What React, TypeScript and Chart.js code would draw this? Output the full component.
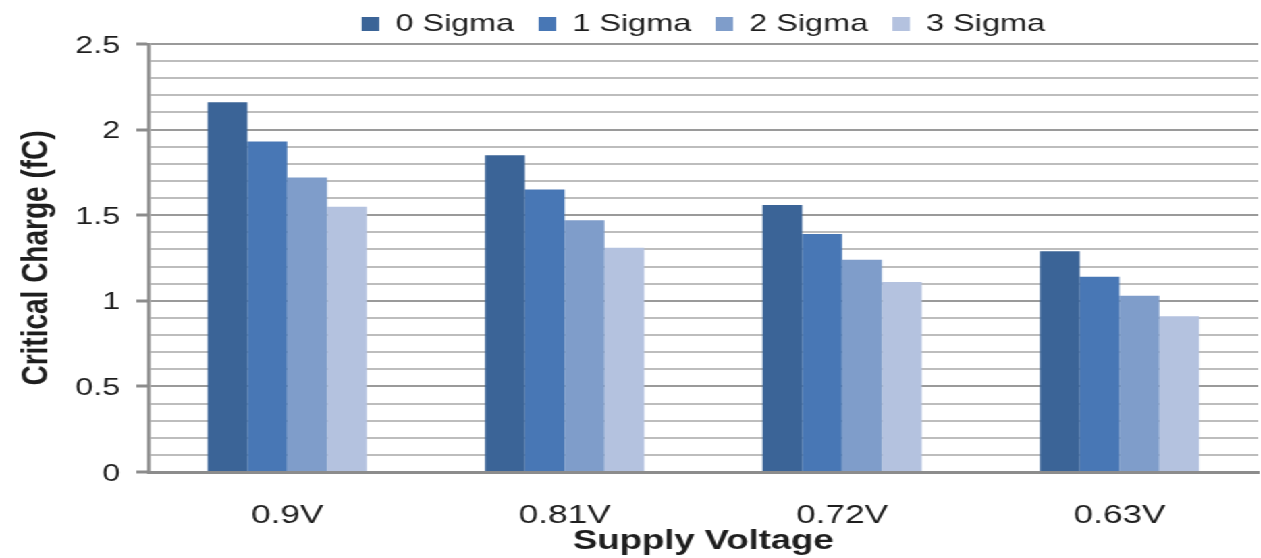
import React, { useEffect, useRef } from "react";
import { Chart, registerables } from "chart.js";

Chart.register(...registerables);

const categories = ["0.9V", "0.81V", "0.72V", "0.63V"];
const seriesNames = ["0 Sigma", "1 Sigma", "2 Sigma", "3 Sigma"];
const sigma0 = [2.16, 1.85, 1.56, 1.29];
const sigma1 = [1.93, 1.65, 1.39, 1.14];
const sigma2 = [1.72, 1.47, 1.24, 1.03];
const sigma3 = [1.55, 1.31, 1.11, 0.91];
const colors = ["#3B6497", "#4877B5", "#7F9DCA", "#B4C2DF"];
const yTitle = "Critical Charge (fC)";
const xTitle = "Supply Voltage";

const FONT = "'Liberation Sans', Arial, sans-serif";
const STRETCH = 1.35;
const W = 934;
const H = 558;

export default function App() {
  const ref = useRef<HTMLCanvasElement | null>(null);
  useEffect(() => {
    if (!ref.current) return;
    const values = [sigma0, sigma1, sigma2, sigma3];
    const isMajor = (v: number) => Math.round(v * 10) % 5 === 0;
    const legendPatch = {
      id: "legendPatch",
      afterInit(chart: any) {
        const lg = chart.legend;
        if (lg) {
          const orig = lg.fit.bind(lg);
          lg.fit = function () {
            orig();
            this.height = 50;
          };
        }
      },
    };
    const chart = new Chart(ref.current, {
      type: "bar",
      data: {
        labels: categories,
        datasets: seriesNames.map((n, i) => ({
          label: n,
          data: values[i],
          backgroundColor: colors[i],
          borderWidth: 0,
          categoryPercentage: 0.574,
          barPercentage: 1.0,
        })),
      },
      options: {
        animation: false,
        responsive: false,
        maintainAspectRatio: false,
        devicePixelRatio: 1,
        layout: { padding: { left: 0, right: 2, top: -6, bottom: 0 } },
        plugins: {
          tooltip: { enabled: false },
          legend: {
            position: "top",
            fullSize: false,
            labels: {
              boxWidth: 13,
              boxHeight: 14,
              padding: 18,
              color: "#1e1e1e",
              font: { family: FONT, size: 24 },
            },
          },
        },
        scales: {
          x: {
            grid: { display: false },
            border: { color: "#8c8c8c", width: 3 },
            ticks: {
              color: "#1e1e1e",
              font: { family: FONT, size: 26 },
              padding: 20,
            },
            title: {
              display: true,
              text: xTitle,
              color: "#1e1e1e",
              font: { family: FONT, size: 27, weight: "bold" },
              padding: { top: 0, bottom: 0 },
            },
            afterFit(scale: any) {
              scale.height = 86;
            },
          },
          y: {
            min: 0,
            max: 2.5,
            border: { color: "#8c8c8c", width: 2.5 },
            grid: {
              color: (ctx: any) => (isMajor(ctx.tick?.value ?? 0) ? "#9a9a9a" : "#bdbdbd"),
              lineWidth: 2,
              drawTicks: true,
              tickLength: 9,
              tickColor: (ctx: any) => (isMajor(ctx.tick?.value ?? 0) ? "#8c8c8c" : "rgba(0,0,0,0)"),
              tickWidth: 3,
            },
            ticks: {
              stepSize: 0.1,
              autoSkip: false,
              color: "#1e1e1e",
              padding: 12,
              labelOffset: 2,
              font: { family: FONT, size: 24 },
              callback: (v: any) => {
                const n = Number(v);
                if (!isMajor(n)) return "";
                return String(Math.round(n * 10) / 10);
              },
            },
            title: {
              display: true,
              text: yTitle,
              color: "#1e1e1e",
              font: { family: FONT, size: 28, weight: "bold" },
              padding: { top: 10, bottom: 0 },
            },
            afterFit(scale: any) {
              scale.width = 110;
            },
          },
        },
      },
      plugins: [legendPatch],
    });
    return () => chart.destroy();
  }, []);
  return (
    <div
      style={{
        position: "fixed",
        left: 0,
        top: 0,
        width: W,
        height: H,
        background: "#fff",
        transform: `scaleX(${STRETCH})`,
        transformOrigin: "0 0",
      }}
    >
      <canvas ref={ref} width={W} height={H} style={{ width: W, height: H, display: "block" }} />
    </div>
  );
}
